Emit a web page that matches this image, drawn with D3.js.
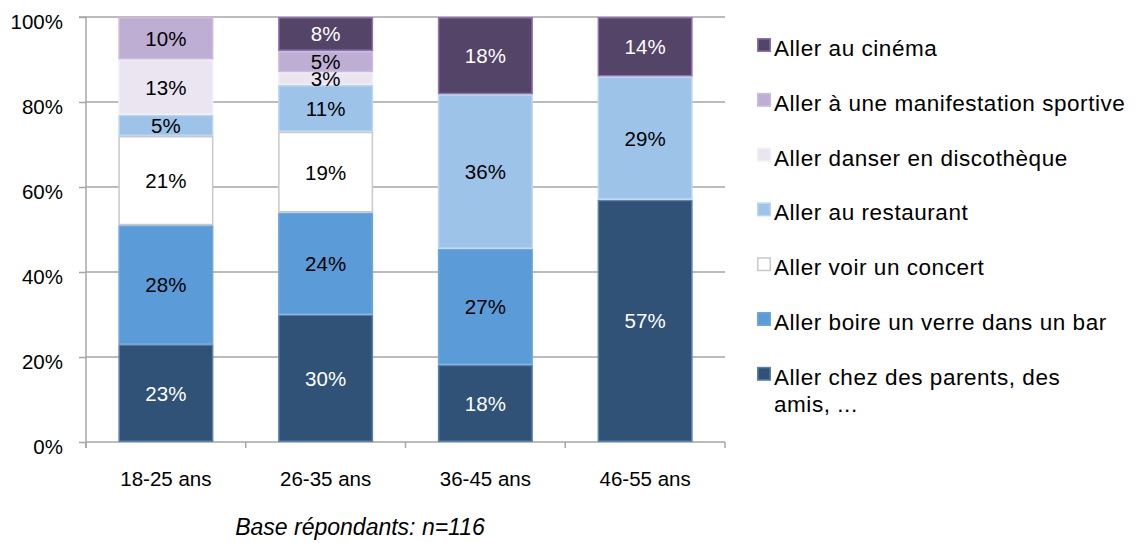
<!DOCTYPE html>
<html>
<head>
<meta charset="utf-8">
<script src="https://cdn.jsdelivr.net/npm/d3@7"></script>
<style>
  html, body { margin: 0; padding: 0; background: #fff; }
  svg { display: block; font-family: "Liberation Sans", Arial, Helvetica, sans-serif; }
</style>
</head>
<body>
<svg id="chart" width="1139" height="543"></svg>
<script>
// Age groups on the x axis
const categories = ["18-25 ans", "26-35 ans", "36-45 ans", "46-55 ans"];

// Share of respondents per activity (percent), one value per age group
const parents    = [23, 30, 18, 57];
const barVerre   = [28, 24, 27, 0];
const concert    = [21, 19, 0, 0];
const restaurant = [5, 11, 36, 29];
const discotheque = [13, 3, 0, 0];
const sportive   = [10, 5, 0, 0];
const cinema     = [0, 8, 18, 14];

// Series, bottom to top of each stacked bar
const seriesNames = [
  "Aller chez des parents, des amis, ...",
  "Aller boire un verre dans un bar",
  "Aller voir un concert",
  "Aller au restaurant",
  "Aller danser en discothèque",
  "Aller à une manifestation sportive",
  "Aller au cinéma"
];
const seriesValues = [parents, barVerre, concert, restaurant, discotheque, sportive, cinema];

const yTicks = [0, 0.2, 0.4, 0.6, 0.8, 1.0];
const footnote = "Base répondants: n=116";

// Styling per series
const fills   = ["#2F5276", "#5B9BD8", "#FFFFFF", "#9EC3E8", "#EAE5F0", "#BFAED3", "#534468"];
const strokes = ["#5B82AE", "#6FA6DC", "#C9C9C9", "#BDD6EF", "#F2EEF6", "#CBBCDC", "#8E72B2"];
const labelColors = ["#FFFFFF", "#000000", "#000000", "#000000", "#000000", "#000000", "#FFFFFF"];

// Build row table for the stack layout
const keys = seriesNames.map((_, i) => "s" + i);
const rows = categories.map((c, j) => {
  const r = { category: c };
  keys.forEach((k, i) => { r[k] = seriesValues[i][j]; });
  return r;
});

const stack = d3.stack().keys(keys).offset(d3.stackOffsetExpand);
const stacked = stack(rows);

const svg = d3.select("#chart");

const plot = { left: 86, right: 725, top: 17, bottom: 442 };

const x = d3.scaleBand()
  .domain(categories)
  .range([plot.left, plot.right])
  .paddingInner(0.405)
  .paddingOuter(0.2025);

const y = d3.scaleLinear().domain([0, 1]).range([plot.bottom, plot.top]);

// Horizontal gridlines
svg.append("g")
  .selectAll("line")
  .data(yTicks.filter(t => t > 0))
  .join("line")
  .attr("x1", plot.left).attr("x2", plot.right)
  .attr("y1", d => y(d)).attr("y2", d => y(d))
  .attr("stroke", "#A6A6A6").attr("stroke-width", 1.5);

// Y axis
const yAxis = d3.axisLeft(y)
  .tickValues(yTicks)
  .tickFormat(d3.format(".0%"))
  .tickSize(7)
  .tickPadding(16);
const gy = svg.append("g")
  .attr("transform", `translate(${plot.left},0)`)
  .call(yAxis);
gy.select(".domain").attr("stroke", "#A6A6A6").attr("stroke-width", 1.5)
  .attr("d", `M-7,${plot.top}H0V${plot.bottom + 6}`);
gy.selectAll(".tick line").attr("stroke", "#A6A6A6").attr("stroke-width", 1.5);
gy.selectAll(".tick text")
  .attr("font-size", "20.5px").attr("fill", "#000")
  .attr("font-family", "Liberation Sans, Arial, sans-serif")
  .attr("dy", "0.55em");

// X axis baseline with category separators
const gx = svg.append("g");
gx.append("line")
  .attr("x1", plot.left).attr("x2", plot.right)
  .attr("y1", plot.bottom).attr("y2", plot.bottom)
  .attr("stroke", "#A6A6A6").attr("stroke-width", 1.5);
const sepPositions = categories.map(c => x(c) - x.step() * x.paddingInner() / 2 - (x(categories[0]) - plot.left - x.step() * x.paddingInner() / 2));
const boundaries = d3.range(categories.length + 1).map(i => plot.left + i * x.step());
gx.selectAll("line.sep")
  .data(boundaries)
  .join("line")
  .attr("class", "sep")
  .attr("x1", d => d).attr("x2", d => d)
  .attr("y1", plot.bottom).attr("y2", plot.bottom + 6)
  .attr("stroke", "#A6A6A6").attr("stroke-width", 1.5);
gx.selectAll("text")
  .data(categories)
  .join("text")
  .attr("x", d => x(d) + x.bandwidth() / 2)
  .attr("y", 486)
  .attr("text-anchor", "middle")
  .attr("font-size", "20.5px")
  .attr("fill", "#000")
  .text(d => d);

// Stacked bars
const layers = svg.append("g")
  .selectAll("g.layer")
  .data(stacked)
  .join("g")
  .attr("class", "layer");

layers.selectAll("rect")
  .data((layer, i) => layer.map(d => ({ d, i, value: d.data[keys[i]] })))
  .join("rect")
  .filter(o => o.value > 0)
  .attr("x", o => x(o.d.data.category) + 0.75)
  .attr("width", x.bandwidth() - 1.5)
  .attr("y", o => y(o.d[1]) + 0.75)
  .attr("height", o => Math.max(0, y(o.d[0]) - y(o.d[1]) - 1.5))
  .attr("fill", o => fills[o.i])
  .attr("stroke", o => strokes[o.i])
  .attr("stroke-width", 1.5);

// Value labels
layers.selectAll("text")
  .data((layer, i) => layer.map(d => ({ d, i, value: d.data[keys[i]] })).filter(o => o.value > 0))
  .join("text")
  .attr("x", o => x(o.d.data.category) + x.bandwidth() / 2)
  .attr("y", o => (y(o.d[0]) + y(o.d[1])) / 2)
  .attr("dy", "0.36em")
  .attr("text-anchor", "middle")
  .attr("font-size", "20.5px")
  .attr("fill", o => labelColors[o.i])
  .text(o => o.value + "%");

// Legend, top entry is the top of the stack
const legendOrder = d3.range(seriesNames.length).reverse();
const legend = svg.append("g");
const legendItems = legend.selectAll("g")
  .data(legendOrder)
  .join("g")
  .attr("transform", (d, k) => `translate(757, ${56 + k * 54.8})`);

legendItems.append("rect")
  .attr("x", 0.75).attr("y", -17.25)
  .attr("width", 12.5).attr("height", 12.5)
  .attr("fill", d => fills[d])
  .attr("stroke", d => strokes[d])
  .attr("stroke-width", 1.5);

const legendText = legendItems.append("text")
  .attr("x", 17)
  .attr("y", 0)
  .attr("font-size", "22.5px")
  .attr("letter-spacing", "0.55px")
  .attr("fill", "#000");

legendText.each(function(d) {
  const t = d3.select(this);
  const name = seriesNames[d];
  // Long label wraps onto a second line
  const lines = name === "Aller chez des parents, des amis, ..."
    ? ["Aller chez des parents, des", "amis, ..."]
    : [name];
  lines.forEach((ln, li) => {
    t.append("tspan").attr("x", 17).attr("dy", li === 0 ? 0 : 27).text(ln);
  });
});

// Footnote
svg.append("text")
  .attr("x", 360)
  .attr("y", 535)
  .attr("text-anchor", "middle")
  .attr("font-size", "23px")
  .attr("font-style", "italic")
  .attr("fill", "#000")
  .text(footnote);
</script>
</body>
</html>
